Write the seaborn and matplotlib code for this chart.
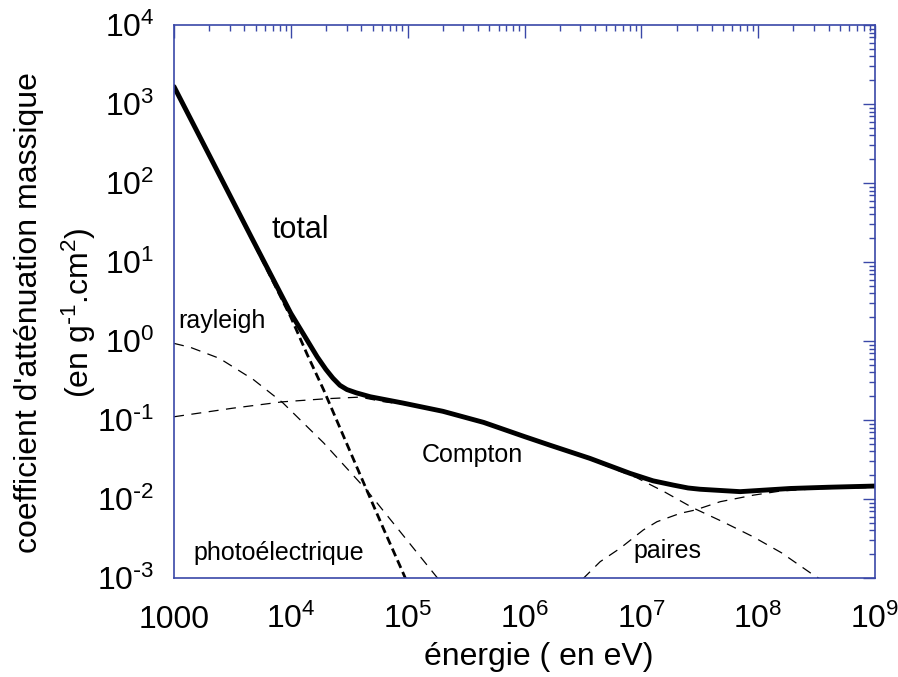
import matplotlib
matplotlib.use("Agg")
import matplotlib.pyplot as plt
import matplotlib.ticker as mticker
import numpy as np
import pandas as pd
import seaborn as sns

# energies (eV) and mass attenuation coefficients (g-1.cm2)
total_E = [1000, 2140, 4570, 10000, 13800, 16800, 19950, 22900, 26300, 30200, 36300, 47900, 91200,
           2.0e5, 4.47e5, 1.0e6, 1.66e6, 3.63e6, 8.02e6, 1.26e7, 1.88e7, 2.51e7, 3.18e7, 7.01e7,
           1.88e8, 3.98e8, 1.0e9]
total_mu = [1660, 186, 20.9, 2.24, 1.02, 0.631, 0.437, 0.339, 0.275, 0.243, 0.221, 0.197, 0.164,
            0.129, 0.0933, 0.0617, 0.0479, 0.0327, 0.0211, 0.0170, 0.0150, 0.0138, 0.0133, 0.0124,
            0.0136, 0.0141, 0.0146]

photo_E = [1000, 2140, 4570, 10000, 13800, 19100, 29500, 44700, 63100, 89100, 100000]
photo_mu = [1660, 186, 20.4, 2.0, 0.676, 0.240, 0.0537, 0.0129, 0.00398, 0.00126, 0.000851]

rayleigh_E = [1000, 1380, 2450, 4790, 8510, 19100, 44700, 178000, 200000]
rayleigh_mu = [0.933, 0.832, 0.603, 0.324, 0.166, 0.0513, 0.0129, 0.00102, 0.000832]

compton_E = [1000, 3160, 8510, 20000, 38900, 63100, 1.0e5, 2.0e5, 4.47e5, 1.0e6, 1.66e6,
             3.63e6, 9.12e6, 1.58e7, 2.75e7, 5.01e7, 9.12e7, 1.58e8, 2.95e8, 3.55e8]
compton_mu = [0.110, 0.141, 0.170, 0.186, 0.195, 0.170, 0.155, 0.126, 0.0912, 0.0603, 0.0468,
              0.0316, 0.0186, 0.0123, 0.00776, 0.00513, 0.00331, 0.00209, 0.00110, 0.000933]

pair_E = [3.16e6, 4.44e6, 6.58e6, 1.04e7, 1.36e7, 2.15e7, 2.89e7, 4.73e7, 9.12e7, 1.54e8, 3.16e8, 1.0e9]
pair_mu = [0.000977, 0.00161, 0.00238, 0.00406, 0.00516, 0.00659, 0.00726, 0.00925, 0.0112, 0.0126, 0.0135, 0.0140]

xticks = [1e3, 1e4, 1e5, 1e6, 1e7, 1e8, 1e9]
xticklabels = ['1000', '$10^{4}$', '$10^{5}$', '$10^{6}$', '$10^{7}$', '$10^{8}$', '$10^{9}$']
yticks = [1e-3, 1e-2, 1e-1, 1e0, 1e1, 1e2, 1e3, 1e4]
yticklabels = [r'$10^{\text{-}3}$', r'$10^{\text{-}2}$', r'$10^{\text{-}1}$', '$10^{0}$',
               '$10^{1}$', '$10^{2}$', '$10^{3}$', '$10^{4}$']

sns.set_style('white')
plt.rcParams['font.family'] = ['Liberation Sans', 'DejaVu Sans']
plt.rcParams['mathtext.default'] = 'regular'
plt.rcParams['text.color'] = 'black'
plt.rcParams['axes.labelcolor'] = 'black'
plt.rcParams['xtick.labelcolor'] = 'black'
plt.rcParams['ytick.labelcolor'] = 'black'

blue = '#3a48a8'

fig = plt.figure(figsize=(8.98, 6.77), dpi=100)
ax = fig.add_axes([0.1938, 0.1462, 0.7806, 0.8168])
ax.set_xscale('log')
ax.set_yscale('log')

thin = dict(color='black', linewidth=0.9, linestyle=(0, (8, 6)))
sns.lineplot(x=rayleigh_E, y=rayleigh_mu, ax=ax, **thin)
sns.lineplot(x=compton_E, y=compton_mu, ax=ax, **thin)
sns.lineplot(x=pair_E, y=pair_mu, ax=ax, **thin)
sns.lineplot(x=photo_E, y=photo_mu, ax=ax, color='black', linewidth=2.0, linestyle=(0, (3, 1.6)))
sns.lineplot(x=total_E, y=total_mu, ax=ax, color='black', linewidth=3.5)

ax.set_xlim(1e3, 1e9)
ax.set_ylim(1e-3, 1e4)

ax.set_xticks(xticks)
ax.set_xticklabels(xticklabels)
ax.set_yticks(yticks)
ax.set_yticklabels(yticklabels)
ax.xaxis.set_minor_locator(mticker.LogLocator(base=10, subs=np.arange(2, 10), numticks=20))
ax.yaxis.set_minor_locator(mticker.LogLocator(base=10, subs=np.arange(2, 10), numticks=20))
ax.xaxis.set_minor_formatter(mticker.NullFormatter())
ax.yaxis.set_minor_formatter(mticker.NullFormatter())

ax.tick_params(which='both', direction='in', top=True, right=True, color=blue, labelsize=23)
ax.tick_params(which='major', length=9, width=1.0)
ax.tick_params(which='minor', length=4.5, width=1.0)
ax.tick_params(axis='y', which='major', pad=14)
ax.tick_params(axis='x', which='major', pad=36)
for lab in ax.get_xticklabels():
    lab.set_verticalalignment('baseline')

for s in ax.spines.values():
    s.set_color(blue)
    s.set_linewidth(1.2)

ax.set_xlabel('énergie ( en eV)', fontsize=23, labelpad=2)
ax.xaxis.set_label_coords(0.521, -0.115)
ax.set_ylabel("coefficient d'atténuation massique\n" + r"(en g$^{\text{-}1}$.cm$^{2}$)",
              fontsize=23, linespacing=1.55)
ax.yaxis.set_label_coords(-0.108, 0.48)

# curve names
ax.text(6.8e3, 20, 'total', fontsize=22, va='baseline')
ax.text(1.08e3, 1.46, 'rayleigh', fontsize=18, va='baseline')
ax.text(1.33e5, 0.0295, 'Compton', fontsize=18, va='baseline')
ax.text(1.46e3, 1.69e-3, 'photoélectrique', fontsize=18, va='baseline')
ax.text(8.5e6, 1.79e-3, 'paires', fontsize=18, va='baseline')

fig.savefig('out.png', dpi=100)
